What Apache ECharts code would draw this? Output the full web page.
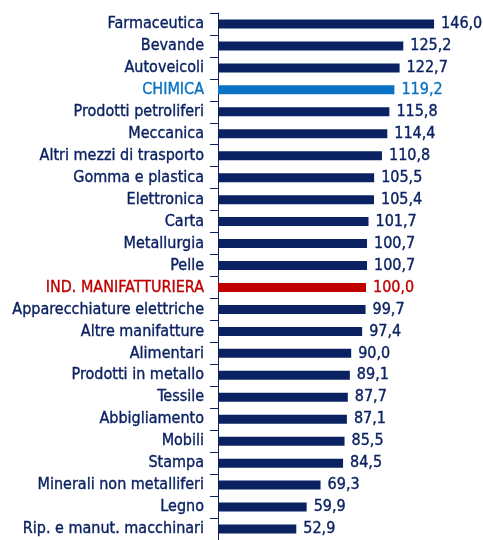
<!DOCTYPE html>
<html><head><meta charset="utf-8">
<script src="https://cdn.jsdelivr.net/npm/echarts@6/dist/echarts.min.js"></script>
<style>html,body{margin:0;padding:0;background:#fff}#c{width:483px;height:540px}</style>
</head><body><div id="c"></div>
<script>
const categories = ["Farmaceutica","Bevande","Autoveicoli","CHIMICA","Prodotti petroliferi","Meccanica","Altri mezzi di trasporto","Gomma e plastica","Elettronica","Carta","Metallurgia","Pelle","IND. MANIFATTURIERA","Apparecchiature elettriche","Altre manifatture","Alimentari","Prodotti in metallo","Tessile","Abbigliamento","Mobili","Stampa","Minerali non metalliferi","Legno","Rip. e manut. macchinari"];
const values = [146.0,125.2,122.7,119.2,115.8,114.4,110.8,105.5,105.4,101.7,100.7,100.7,100.0,99.7,97.4,90.0,89.1,87.7,87.1,85.5,84.5,69.3,59.9,52.9];
const highlightChem = "CHIMICA";
const highlightTotal = "IND. MANIFATTURIERA";

const NAVY = "#0b2262", BLUE = "#0a72c2", RED = "#c00000";
const FONT = "'Liberation Sans Narrow','Arial Narrow','DejaVu Sans Condensed',sans-serif";
const BW = 0.35;
function colorFor(name){ return name===highlightChem?BLUE:(name===highlightTotal?RED:NAVY); }
function keyFor(name){ return name===highlightChem?'b':(name===highlightTotal?'r':'n'); }
const rich = {
  n:{color:NAVY, textBorderColor:NAVY, textBorderWidth:BW, fontFamily:FONT, fontSize:16},
  b:{color:BLUE, textBorderColor:BLUE, textBorderWidth:BW, fontFamily:FONT, fontSize:16},
  r:{color:RED, textBorderColor:RED, textBorderWidth:BW, fontFamily:FONT, fontSize:16}
};

const chart = echarts.init(document.getElementById('c'), null, {renderer:'canvas'});
chart.setOption({
  animation:false,
  grid:{left:218, top:13, width:236.8, height:528},
  xAxis:{type:'value', min:0, max:160, show:false},
  yAxis:{type:'category', data:categories, inverse:true,
    axisLine:{show:true, lineStyle:{color:NAVY, width:1}},
    axisTick:{show:true, length:8, lineStyle:{color:NAVY}},
    axisLabel:{margin:14, fontFamily:FONT, fontSize:16, rich:rich,
      formatter:v=>'{'+keyFor(v)+'|'+v+'}'}
  },
  series:[{type:'bar', barWidth:9,
    data:values.map((v,i)=>({value:v, itemStyle:{color:colorFor(categories[i])}})),
    label:{show:true, position:'right', distance:7, fontFamily:FONT, fontSize:16, rich:rich,
      formatter:p=>'{'+keyFor(p.name)+'|'+p.value.toFixed(1).replace('.',',')+'}'}
  }]
});
</script></body></html>
